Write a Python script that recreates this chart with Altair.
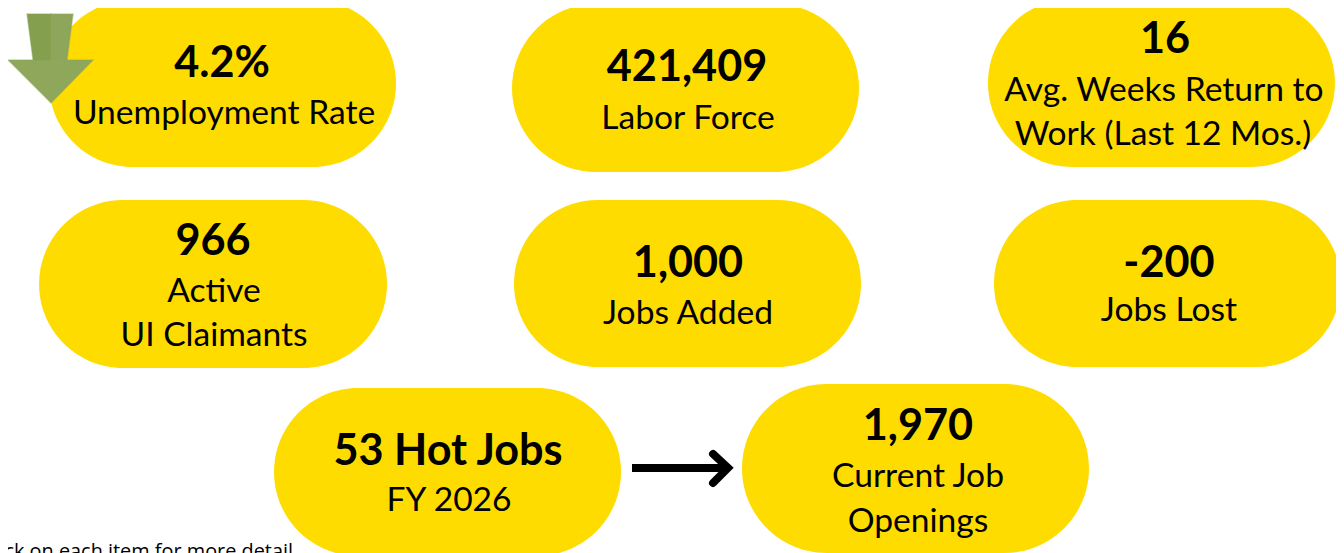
import altair as alt
import pandas as pd

# Pills
pill_x0 = [49, 512, 988, 39, 514, 994, 274, 742]
pill_x1 = [396, 859, 1335, 387, 861, 1341, 621, 1089]
pill_y0 = [0, 4, -1, 200, 200, 200, 388, 384]
pill_y1 = [167, 172, 167, 368, 367, 367, 556, 553]

# Headline values
value_text = ["4.2%", "421,409", "16", "966", "1,000", "-200", "53 Hot Jobs", "1,970"]
value_x = [222, 687, 1165, 213, 688, 1169, 448, 918]
value_y = [77, 81, 53, 255, 277, 277, 465, 440]

# Descriptions
label_text = ["Unemployment Rate", "Labor Force", "Avg. Weeks Return to", "Work (Last 12 Mos.)",
              "Active", "UI Claimants", "Jobs Added", "Jobs Lost", "FY 2026", "Current Job", "Openings"]
label_x = [224, 688, 1164, 1163, 214, 214, 688, 1169, 449, 918, 918]
label_y = [124, 129, 101, 145, 302, 346, 324, 321, 511, 487, 532]

# Footer
foot_text = ["Click on each item for more detail"]
foot_x = [293]
foot_y = [558]

# Black connector arrow
shaft_x = [632, 728]
shaft_y = [468, 468]
head_x = [713, 728, 713]
head_y = [454, 468, 483]

# Green down arrow
shaft_l_y = [14, 60]
shaft_l_x = [27, 33]
shaft_l_x2 = [51, 51]
shaft_r_y = [14, 60]
shaft_r_x = [51, 51]
shaft_r_x2 = [73, 67]
tip_y = [60, 103]
tip_x = [8, 51]
tip_x2 = [93, 51]

W, H = 1336, 550
S = 1344 / 1352  # the page is shown slightly reduced when it fills the window
DY = 1.7
X = alt.X("x:Q", scale=alt.Scale(domain=[8 * S, (8 + W) * S], range=[0, W], nice=False, zero=False), axis=None)
Y = alt.Y("y:Q", scale=alt.Scale(domain=[8 * S + DY, (8 + H) * S + DY], range=[0, H], nice=False, zero=False), axis=None)

pills = alt.Chart(pd.DataFrame({"x": pill_x0, "x2": pill_x1, "y": pill_y0, "y2": pill_y1})).mark_bar(
    color="#FFDC00", cornerRadius=85, clip=False
).encode(x=X, x2="x2:Q", y=Y, y2="y2:Q")

values = alt.Chart(pd.DataFrame({"x": value_x, "y": value_y, "t": value_text})).mark_text(
    font="Lato", fontWeight="bold", fontSize=43.5, color="#000000", align="center", baseline="alphabetic"
).encode(x=X, y=Y, text="t:N")

labels = alt.Chart(pd.DataFrame({"x": label_x, "y": label_y, "t": label_text})).mark_text(
    font="Lato", fontSize=33.8, color="#000000", align="center", baseline="alphabetic"
).encode(x=X, y=Y, text="t:N")

foot = alt.Chart(pd.DataFrame({"x": foot_x, "y": foot_y, "t": foot_text})).mark_text(
    font="Open Sans", fontSize=20, color="#000000", align="right", baseline="alphabetic"
).encode(x=X, y=Y, text="t:N")

shaft = alt.Chart(pd.DataFrame({"x": shaft_x, "y": shaft_y})).mark_line(
    color="#000000", strokeWidth=8, strokeCap="butt"
).encode(x=X, y=Y)

head = alt.Chart(pd.DataFrame({"x": head_x, "y": head_y, "o": [0, 1, 2]})).mark_line(
    color="#000000", strokeWidth=8, strokeCap="round", strokeJoin="miter"
).encode(x=X, y=Y, order="o:Q")


def green(ys, xs, x2s, colour):
    return alt.Chart(pd.DataFrame({"y": ys, "x": xs, "x2": x2s})).mark_area(
        orient="horizontal", color=colour, stroke=colour, strokeWidth=1.5, strokeOpacity=0.45
    ).encode(y=Y, x=X, x2="x2:Q")


arrow_a = green(tip_y, tip_x, tip_x2, "#8EA75B")
arrow_b = green(shaft_l_y, shaft_l_x, shaft_l_x2, "#84A04E")
arrow_c = green(shaft_r_y, shaft_r_x, shaft_r_x2, "#8DA65C")

chart = alt.layer(
    pills, values, labels, foot, shaft, head, arrow_a, arrow_b, arrow_c
).properties(
    width=W, height=H, padding=0, autosize=alt.AutoSizeParams(type="none")
).configure_view(stroke=None)

chart.save("out.html", embed_options={"renderer": "svg", "actions": False})
